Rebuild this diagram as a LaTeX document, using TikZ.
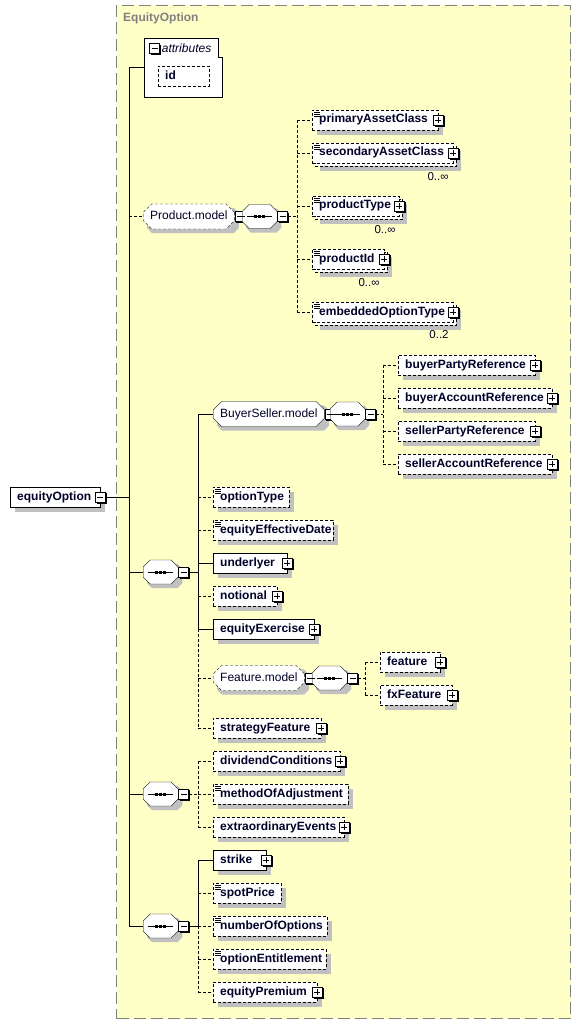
\documentclass[tikz,border=0pt]{standalone}
\usepackage{fontspec}
\setmainfont{Liberation Sans}
\usetikzlibrary{positioning}
\usetikzlibrary{shapes.misc}
\usetikzlibrary{calc}
\definecolor{groupfill}{RGB}{255,255,200}
\definecolor{groupline}{RGB}{128,128,128}
\definecolor{dropgray}{RGB}{192,192,192}
\definecolor{xsdtext}{RGB}{0,0,40}
\pgfdeclarelayer{back}
\pgfdeclarelayer{shade}
\pgfsetlayers{back,shade,main}
\tikzset{
    every node/.style={
        font=\fontsize{12}{14}\selectfont,
        text=xsdtext},
    opt/.style={dash pattern=on 3pt off 2pt},
    elem/.style={
        draw,
        fill=white,
        anchor=west,
        minimum height=20pt,
        inner xsep=7pt,
        inner ysep=0pt,
        text width=#1,
        text height=9pt,
        text depth=3pt,
        align=left,
        font=\fontsize{12}{14}\selectfont\bfseries},
    simple/.style={
        path picture={
            \foreach \k in {2,4,6}
                \draw[solid,line width=0.7pt] ([shift={(2pt,-\k pt)}]path picture bounding box.north west) -- ++(6pt,0pt);}},
    pbox/.style={
        draw,
        solid,
        fill=white,
        minimum size=10pt,
        inner sep=0pt,
        append after command={\pgfextra{\draw[solid,line width=1.4pt]
            ([shift={(0.7pt,-1.4pt)}]\tikzlastnode.north east) |- ([shift={(1.4pt,-0.7pt)}]\tikzlastnode.south west);}}},
    plus/.style={pbox,
        path picture={
            \draw ([xshift=2pt]path picture bounding box.west) -- ([xshift=-2pt]path picture bounding box.east);
            \draw ([yshift=-2pt]path picture bounding box.north) -- ([yshift=2pt]path picture bounding box.south);}},
    minus/.style={pbox,
        path picture={
            \draw ([xshift=2pt]path picture bounding box.west) -- ([xshift=-2pt]path picture bounding box.east);}},
    seq/.style={
        chamfered rectangle,
        chamfered rectangle xsep=5pt,
        draw,
        fill=white,
        anchor=west,
        minimum width=35pt,
        minimum height=20pt,
        inner xsep=2pt,
        inner ysep=3pt,
        path picture={
            \draw[solid] ([xshift=5pt]path picture bounding box.west) -- ([xshift=-5pt]path picture bounding box.east);
            \foreach \k in {-4,0,4}
                \fill[black] ([xshift=\k pt]path picture bounding box.center) +(-1.5pt,-1.5pt) rectangle +(1.5pt,1.5pt);}},
    mgroup/.style={
        chamfered rectangle,
        chamfered rectangle xsep=5pt,
        draw,
        fill=white,
        anchor=west,
        minimum width=#1,
        minimum height=20pt,
        inner xsep=2pt,
        inner ysep=3pt,
        text height=9pt,
        text depth=3pt},
    mult/.style={font=\fontsize{11.5}{13}\selectfont,inner sep=0pt},
    groupframe/.style={
        draw=groupline,
        fill=groupfill,
        line width=1pt,
        dash pattern=on 12pt off 5pt,
        anchor=north west,
        inner sep=0pt,
        minimum width=454pt,
        minimum height=1013pt},
    grouptitle/.style={
        anchor=base west,
        inner sep=0pt,
        text=groupline,
        font=\fontsize{12}{14}\selectfont\bfseries}}
\begin{document}
\begin{tikzpicture}[x=1pt,y=-1pt,line width=0.8pt]
    \useasboundingbox (0,0) rectangle (581,1024);
    \begin{pgfonlayer}{back}
        \node[groupframe] (frame) at (116,5) {};
    \end{pgfonlayer}
    \node[grouptitle] (frame-t) at (123,22) {EquityOption};

    \node[elem=76pt] (eo) at (10,497) {equityOption};
    \node[minus] (eo-m) at (eo.east) {};
    \coordinate (mainv) at (129,0);

    \node[inner sep=0pt,minimum width=78pt,minimum height=59pt,anchor=north west] (attr) at (144,38) {};
    \draw[fill=white] (attr.north west) -- ([xshift=-4pt]attr.north east) |- ([yshift=-19pt]attr.north east)
        -- (attr.south east) -- (attr.south west) -- cycle;
    \node[minus] (attr-m) at (154.5,48.5) {};
    \node[anchor=west,inner xsep=2pt,font=\fontsize{12}{14}\selectfont\itshape] (attr-t) at (attr-m.east) {attributes};
    \node[elem=37pt,opt] (id) at (158,76.5) {id};

    \node[mgroup=79pt,opt] (pm) at (143,216.5) {Product.model};
    \node[minus,right=0pt of pm] (pm-m) {};
    \node[seq] (pseq) at (242,216.5) {\strut};
    \node[minus,right=0pt of pseq] (pseq-m) {};
    \coordinate (pbr) at (297,216.5);
    \node[elem=112pt,opt,simple] (pac) at (312,120) {primaryAssetClass};
    \node[plus] (pac-p) at (pac.east) {};
    \node[elem=127pt,opt,simple] (sac) at (312,153) {secondaryAssetClass};
    \node[plus] (sac-p) at (sac.east) {};
    \node[mult] (sac-n) at (438,177) {0..∞};
    \node[elem=73pt,opt,simple] (pty) at (312,206) {productType};
    \node[plus] (pty-p) at (pty.east) {};
    \node[mult] (pty-n) at (385,230) {0..∞};
    \node[elem=58pt,opt,simple] (pid) at (312,259) {productId};
    \node[plus] (pid-p) at (pid.east) {};
    \node[mult] (pid-n) at (369,283) {0..∞};
    \node[elem=127pt,opt,simple] (eot) at (312,312) {embeddedOptionType};
    \node[plus] (eot-p) at (eot.east) {};
    \node[mult] (eot-n) at (439,335) {0..2};

    \node[seq] (s1) at (143,572) {\strut};
    \node[minus,right=0pt of s1] (s1-m) {};
    \coordinate (s1br) at (198,572);
    \node[mgroup=95pt] (bsm) at (213,414) {BuyerSeller.model};
    \node[minus,right=0pt of bsm] (bsm-m) {};
    \node[seq] (bseq) at (330,414) {\strut};
    \node[minus,right=0pt of bseq] (bseq-m) {};
    \coordinate (bbr) at (383,414);
    \node[elem=123pt,opt] (bpr) at (398,365) {buyerPartyReference};
    \node[plus] (bpr-p) at (bpr.east) {};
    \node[elem=140pt,opt] (bar) at (398,398) {buyerAccountReference};
    \node[plus] (bar-p) at (bar.east) {};
    \node[elem=123pt,opt] (spr) at (398,431) {sellerPartyReference};
    \node[plus] (spr-p) at (spr.east) {};
    \node[elem=140pt,opt] (sar) at (398,464) {sellerAccountReference};
    \node[plus] (sar-p) at (sar.east) {};
    \node[elem=62pt,opt,simple] (otp) at (213,497) {optionType};
    \node[elem=106pt,opt,simple] (eed) at (213,530) {equityEffectiveDate};
    \node[elem=60pt] (und) at (213,563) {underlyer};
    \node[plus] (und-p) at (und.east) {};
    \node[elem=50pt,opt] (nti) at (213,596) {notional};
    \node[plus] (nti-p) at (nti.east) {};
    \node[elem=87pt] (eex) at (213,629) {equityExercise};
    \node[plus] (eex-p) at (eex.east) {};
    \node[mgroup=79pt,opt] (fm) at (213,678) {Feature.model};
    \node[minus,right=0pt of fm] (fm-m) {};
    \node[seq] (fseq) at (312,678) {\strut};
    \node[minus,right=0pt of fseq] (fseq-m) {};
    \coordinate (fbr) at (365,678);
    \node[elem=46pt,opt] (fea) at (380,662) {feature};
    \node[plus] (fea-p) at (fea.east) {};
    \node[elem=58pt,opt] (fxf) at (380,695) {fxFeature};
    \node[plus] (fxf-p) at (fxf.east) {};
    \node[elem=94pt,opt] (sfe) at (213,728) {strategyFeature};
    \node[plus] (sfe-p) at (sfe.east) {};

    \node[seq] (s2) at (143,794) {\strut};
    \node[minus,right=0pt of s2] (s2-m) {};
    \coordinate (s2br) at (198,794);
    \node[elem=113pt,opt] (dco) at (213,761) {dividendConditions};
    \node[plus] (dco-p) at (dco.east) {};
    \node[elem=121pt,opt,simple] (moa) at (213,794) {methodOfAdjustment};
    \node[elem=117pt,opt] (eev) at (213,827) {extraordinaryEvents};
    \node[plus] (eev-p) at (eev.east) {};

    \node[seq] (s3) at (143,926) {\strut};
    \node[minus,right=0pt of s3] (s3-m) {};
    \coordinate (s3br) at (198,926);
    \node[elem=39pt] (stk) at (213,860) {strike};
    \node[plus] (stk-p) at (stk.east) {};
    \node[elem=54pt,opt,simple] (spp) at (213,893) {spotPrice};
    \node[elem=100pt,opt,simple] (noo) at (213,926) {numberOfOptions};
    \node[elem=99pt,opt,simple] (oen) at (213,959) {optionEntitlement};
    \node[elem=90pt,opt] (epr) at (213,992) {equityPremium};
    \node[plus] (epr-p) at (epr.east) {};

    % shadows and back copies
    \begin{pgfonlayer}{shade}
        \foreach \g in {eo,id,pac,bpr,bar,spr,sar,otp,eed,und,nti,eex,fea,fxf,sfe,dco,moa,eev,stk,spp,noo,oen,epr}
            \fill[dropgray] ([shift={(5pt,-5pt)}]\g.north west) rectangle ([shift={(5pt,-5pt)}]\g.south east);
        \foreach \g in {sac,pty,pid,eot} {
            \fill[dropgray] ([shift={(8pt,-8pt)}]\g.north west) rectangle ([shift={(8pt,-8pt)}]\g.south east);
            \draw[fill=white,opt] ([shift={(3pt,-3pt)}]\g.north west) rectangle ([shift={(3pt,-3pt)}]\g.south east);
        }
        \foreach \g in {pm,pseq,bsm,bseq,fm,fseq,s1,s2,s3}
            \fill[dropgray] let \p1=(\g.west), \p2=(\g.east), \p3=(\g.north), \p4=(\g.south) in
                (\x1+9pt,\y3-4pt) -- (\x2-1pt,\y3-4pt) -- (\x2+4pt,\y3-9pt) -- (\x2+4pt,\y4+1pt)
                -- (\x2-1pt,\y4-4pt) -- (\x1+9pt,\y4-4pt) -- (\x1+4pt,\y4+1pt) -- (\x1+4pt,\y3-9pt) -- cycle;
    \end{pgfonlayer}

    \draw (eo-m.east) -- (mainv |- eo-m.east);
    \draw (mainv |- attr.west) -- (mainv |- s3.west);
    \draw (mainv |- attr.west) -- (attr.west);
    \draw[opt] (mainv |- pm.west) -- (pm.west);
    \draw (mainv |- s1.west) -- (s1.west);
    \draw (mainv |- s2.west) -- (s2.west);
    \draw (mainv |- s3.west) -- (s3.west);

    \draw (pm-m.east) -- (pseq.west);
    \draw[opt] (pseq-m.east) -- (pbr);
    \draw[opt] (pbr |- pac.west) -- (pbr |- eot.west);
    \foreach \n in {pac,sac,pty,pid,eot}
        \draw[opt] (pbr |- \n.west) -- (\n.west);

    \draw (s1-m.east) -- (s1br);
    \draw (s1br |- bsm.west) -- (s1br |- eex.west);
    \draw[opt] (s1br |- eex.west) -- (s1br |- sfe.west);
    \foreach \n in {bsm,und,eex}
        \draw (s1br |- \n.west) -- (\n.west);
    \foreach \n in {otp,eed,nti,fm,sfe}
        \draw[opt] (s1br |- \n.west) -- (\n.west);

    \draw (bsm-m.east) -- (bseq.west);
    \draw[opt] (bseq-m.east) -- (bbr);
    \draw[opt] (bbr |- bpr.west) -- (bbr |- sar.west);
    \foreach \n in {bpr,bar,spr,sar}
        \draw[opt] (bbr |- \n.west) -- (\n.west);

    \draw (fm-m.east) -- (fseq.west);
    \draw[opt] (fseq-m.east) -- (fbr);
    \draw[opt] (fbr |- fea.west) -- (fbr |- fxf.west);
    \foreach \n in {fea,fxf}
        \draw[opt] (fbr |- \n.west) -- (\n.west);

    \draw[opt] (s2-m.east) -- (s2br);
    \draw[opt] (s2br |- dco.west) -- (s2br |- eev.west);
    \foreach \n in {dco,moa,eev}
        \draw[opt] (s2br |- \n.west) -- (\n.west);

    \draw (s3-m.east) -- (s3br);
    \draw (s3br |- stk.west) -- (s3br |- noo.west);
    \draw[opt] (s3br |- noo.west) -- (s3br |- epr.west);
    \draw (s3br |- stk.west) -- (stk.west);
    \foreach \n in {spp,noo,oen,epr}
        \draw[opt] (s3br |- \n.west) -- (\n.west);
\end{tikzpicture}
\end{document}
